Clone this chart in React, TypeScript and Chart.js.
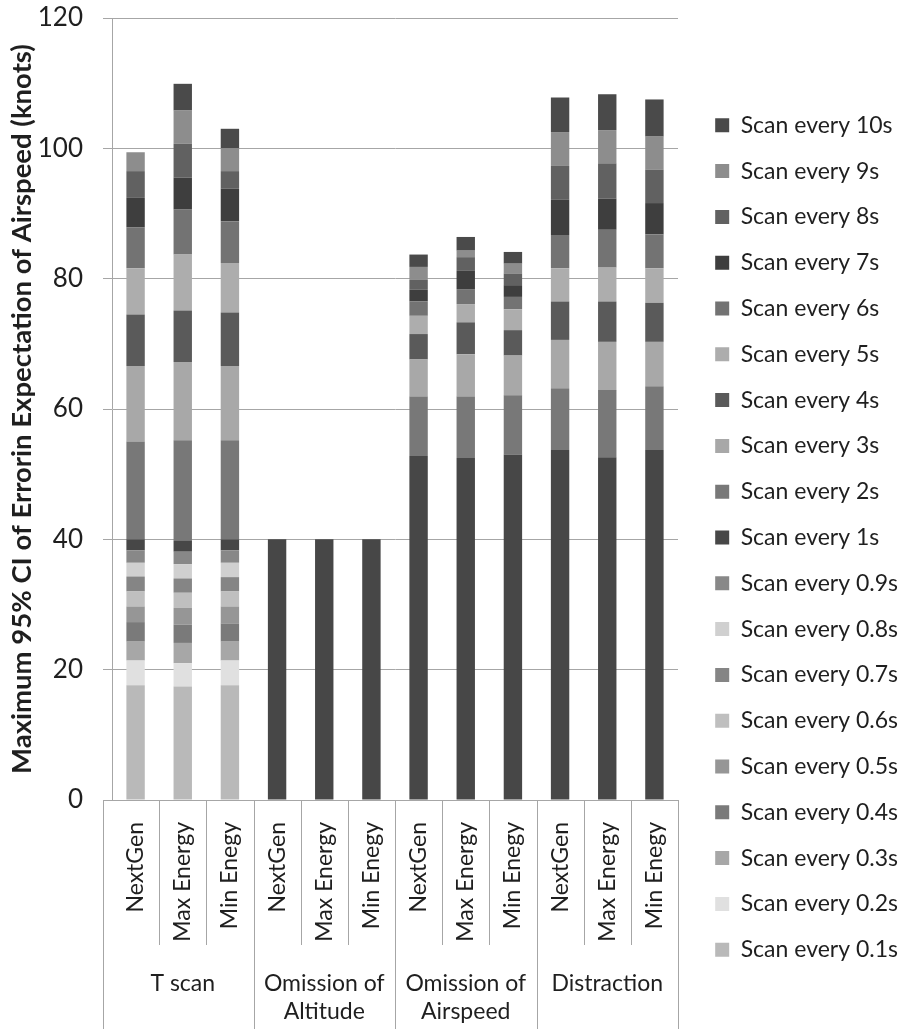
import React, { useEffect, useRef } from "react";
import { Chart, registerables } from "chart.js";

Chart.register(...registerables);

const FONT = "Lato, 'Open Sans', sans-serif";
const TEXT = "#1f1f1f";
const GRID = "#a6a6a6";

const categories = [
  "NextGen", "Max Energy", "Min Enegy",
  "NextGen", "Max Energy", "Min Enegy",
  "NextGen", "Max Energy", "Min Enegy",
  "NextGen", "Max Energy", "Min Enegy",
];
const groups: (string | string[])[] = ["T scan", ["Omission of", "Altitude"], ["Omission of", "Airspeed"], "Distraction"];

const seriesNames = [
  "Scan every 0.1s", "Scan every 0.2s", "Scan every 0.3s", "Scan every 0.4s", "Scan every 0.5s",
  "Scan every 0.6s", "Scan every 0.7s", "Scan every 0.8s", "Scan every 0.9s", "Scan every 1s",
  "Scan every 2s", "Scan every 3s", "Scan every 4s", "Scan every 5s", "Scan every 6s",
  "Scan every 7s", "Scan every 8s", "Scan every 9s", "Scan every 10s",
];
const seriesColors = [
  "#b9b9b9", "#e0e0e0", "#a7a7a7", "#7a7a7a", "#969696",
  "#bfbfbf", "#858585", "#d0d0d0", "#888888", "#474747",
  "#787878", "#a8a8a8", "#5a5a5a", "#adadad", "#737373",
  "#3e3e3e", "#616161", "#8d8d8d", "#4a4a4a",
];

const scan01 = [17.6, 17.4, 17.6, 0, 0, 0, 0, 0, 0, 0, 0, 0];
const scan02 = [3.8, 3.6, 3.8, 0, 0, 0, 0, 0, 0, 0, 0, 0];
const scan03 = [2.9, 3.1, 2.9, 0, 0, 0, 0, 0, 0, 0, 0, 0];
const scan04 = [3.0, 2.8, 2.8, 0, 0, 0, 0, 0, 0, 0, 0, 0];
const scan05 = [2.4, 2.6, 2.6, 0, 0, 0, 0, 0, 0, 0, 0, 0];
const scan06 = [2.3, 2.3, 2.3, 0, 0, 0, 0, 0, 0, 0, 0, 0];
const scan07 = [2.3, 2.2, 2.2, 0, 0, 0, 0, 0, 0, 0, 0, 0];
const scan08 = [2.1, 2.2, 2.2, 0, 0, 0, 0, 0, 0, 0, 0, 0];
const scan09 = [1.9, 1.9, 1.9, 0, 0, 0, 0, 0, 0, 0, 0, 0];
const scan1 = [1.7, 1.75, 1.7, 40, 40, 40, 52.8, 52.5, 53.0, 53.7, 52.6, 53.7];
const scan2 = [15.0, 15.35, 15.2, 0, 0, 0, 9.1, 9.4, 9.1, 9.5, 10.3, 9.8];
const scan3 = [11.6, 12.0, 11.4, 0, 0, 0, 5.7, 6.5, 6.1, 7.4, 7.4, 6.8];
const scan4 = [7.9, 7.9, 8.2, 0, 0, 0, 3.9, 4.9, 3.9, 5.9, 6.2, 6.0];
const scan5 = [7.1, 8.6, 7.6, 0, 0, 0, 2.8, 2.8, 3.2, 5.1, 5.2, 5.3];
const scan6 = [6.3, 6.9, 6.4, 0, 0, 0, 2.2, 2.3, 1.9, 5.1, 5.8, 5.2];
const scan7 = [4.5, 4.9, 5.0, 0, 0, 0, 1.8, 2.8, 1.8, 5.4, 4.8, 4.8];
const scan8 = [4.1, 5.2, 2.7, 0, 0, 0, 1.5, 2.1, 1.8, 5.2, 5.4, 5.1];
const scan9 = [2.9, 5.1, 3.5, 0, 0, 0, 2.0, 1.0, 1.5, 5.2, 5.1, 5.1];
const scan10 = [0, 4.1, 3.0, 0, 0, 0, 1.9, 2.1, 1.8, 5.3, 5.5, 5.7];

const seriesValues = [
  scan01, scan02, scan03, scan04, scan05, scan06, scan07, scan08, scan09, scan1,
  scan2, scan3, scan4, scan5, scan6, scan7, scan8, scan9, scan10,
];

const yTitle = "Maximum 95% CI of Errorin Expectation of Airspeed (knots)";

const W = 908;
const H = 1029;
const PLOT_RIGHT = 678;

const separators = {
  id: "separators",
  afterDraw(chart: any) {
    const x = chart.scales.x;
    const ctx = chart.ctx;
    const n = categories.length;
    const per = n / groups.length;
    const step = (x.right - x.left) / n;
    ctx.save();
    ctx.strokeStyle = GRID;
    ctx.lineWidth = 1;
    for (let i = 0; i <= n; i++) {
      let px = x.left + i * step;
      if (i === 0) px = x.left - 9;
      const bottom = i % per === 0 ? chart.height : x.bottom;
      const xx = Math.round(px) + 0.5;
      ctx.beginPath();
      ctx.moveTo(xx, x.top);
      ctx.lineTo(xx, bottom);
      ctx.stroke();
    }
    ctx.restore();
  },
};

export default function App() {
  const ref = useRef<HTMLCanvasElement>(null);
  useEffect(() => {
    if (!ref.current) return;
    const chart = new Chart(ref.current, {
      type: "bar",
      data: {
        labels: categories,
        datasets: seriesNames.map((name, i) => ({
          label: name,
          data: seriesValues[i],
          backgroundColor: seriesColors[i],
          borderWidth: 0,
          barPercentage: 0.39,
          categoryPercentage: 1,
          xAxisID: "x",
          yAxisID: "y",
        })),
      },
      options: {
        animation: false,
        responsive: true,
        maintainAspectRatio: false,
        layout: { padding: { top: 18, bottom: 0, left: 0, right: 0 } },
        plugins: {
          tooltip: { enabled: false },
          legend: {
            position: "right",
            reverse: true,
            maxWidth: 300,
            title: { display: true, text: "", font: { size: 10 }, padding: { top: 16, bottom: 0 } },
            labels: {
              boxWidth: 14,
              boxHeight: 14,
              padding: 22.8,
              color: TEXT,
              font: { family: FONT, size: 23 },
            },
          },
        },
        scales: {
          x: {
            stacked: true,
            position: "bottom",
            grid: { display: false },
            border: { display: true, color: GRID },
            ticks: {
              minRotation: 90,
              maxRotation: 90,
              autoSkip: false,
              padding: 14,
              color: TEXT,
              font: { family: FONT, size: 23 },
            },
            afterFit: (s: any) => { s.height = 145; },
          },
          x2: {
            type: "category",
            labels: groups as any,
            position: "bottom",
            offset: true,
            grid: { display: false },
            border: { display: false },
            ticks: {
              maxRotation: 0,
              minRotation: 0,
              autoSkip: false,
              padding: 17,
              color: TEXT,
              font: { family: FONT, size: 23 },
            },
            afterFit: (s: any) => { s.height = 84; },
          },
          y: {
            stacked: true,
            min: 0,
            max: 120,
            ticks: {
              stepSize: 20,
              padding: 20,
              color: TEXT,
              font: { family: FONT, size: 26 },
            },
            grid: { color: GRID, tickLength: 9, tickColor: GRID },
            border: { display: true, color: GRID },
            title: {
              display: true,
              text: yTitle,
              color: TEXT,
              font: { family: FONT, size: 27.5, weight: "bold" },
              padding: { top: 6, bottom: 0 },
            },
            afterFit: (s: any) => {
              s.width = 112;
              s.paddingTop = 0;
              s.paddingBottom = 0;
            },
          },
          yR: {
            type: "linear",
            position: "right",
            display: true,
            grid: { display: false, drawOnChartArea: false },
            border: { display: false },
            ticks: { display: false },
            afterFit: (s: any) => {
              const lw = s.chart.legend ? s.chart.legend.width : 0;
              s.width = Math.max(0, W - PLOT_RIGHT - lw);
            },
          },
        },
      },
      plugins: [separators],
    });
    return () => chart.destroy();
  }, []);

  return (
    <div style={{ position: "absolute", left: 0, top: 0, width: W, height: H, background: "#fff" }}>
      <canvas ref={ref} />
    </div>
  );
}
